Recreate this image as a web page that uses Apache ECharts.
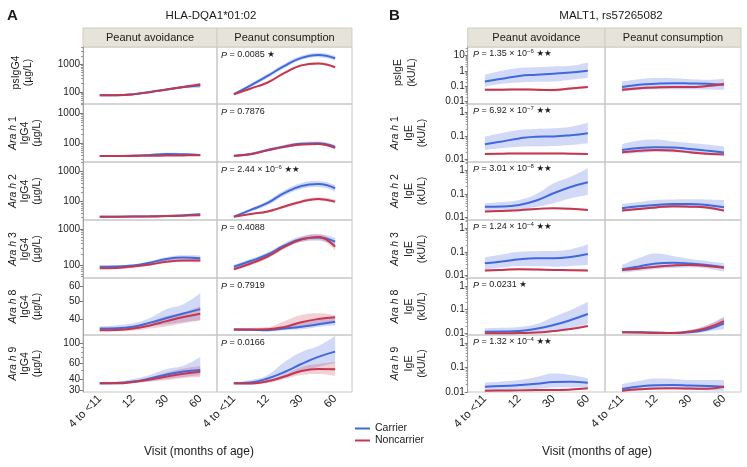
<!DOCTYPE html>
<html><head><meta charset="utf-8">
<script src="https://cdn.jsdelivr.net/npm/echarts@6/dist/echarts.min.js"></script>
<style>html,body{margin:0;padding:0;background:#fff}#c{width:747px;height:467px}</style>
</head><body><div id="c"></div>
<script>
// ---------------- DATA ----------------
const visits = ['4 to <11', '12', '30', '60'];
const xPos = [0, 0.5, 1, 1.5, 2, 2.5, 3];

const A_title = 'HLA-DQA1*01:02';
const B_title = 'MALT1, rs57265082';
const strips = ['Peanut avoidance', 'Peanut consumption'];
const A_rowNames = ['psIgG4', 'Ara h 1', 'Ara h 2', 'Ara h 3', 'Ara h 8', 'Ara h 9'];
const B_rowNames = ['psIgE', 'Ara h 1', 'Ara h 2', 'Ara h 3', 'Ara h 8', 'Ara h 9'];
const A_isotype = 'IgG4', A_unit = '(µg/L)';
const B_isotype = 'IgE', B_unit = '(kU/L)';

// y-axis ranges (data units) and tick labels
const A_yRange = [[36.9, 4170], [23.8, 2040], [24.5, 2090], [46.2, 1760], [32.9, 66.2], [28.5, 123.6]];
const B_yRange = [[0.00708, 37.2], [0.00794, 2.24], [0.00794, 2.16], [0.00794, 2.24], [0.00851, 2.19], [0.00977, 2.19]];
const A_ticks = [[100, 1000], [100, 1000], [100, 1000], [100, 1000], [40, 50, 60], [30, 40, 60, 100]];
const B_ticks = [[0.01, 0.1, 1, 10], [0.01, 0.1, 1], [0.01, 0.1, 1], [0.01, 0.1, 1], [0.01, 0.1, 1], [0.01, 0.1, 1]];

// P values: mantissa, exponent, stars
const A_pVal = ['0.0085', '0.7876', '2.44 × 10', '0.4088', '0.7919', '0.0166'];
const A_pExp = ['', '', '−6', '', '', ''];
const A_pStar = ['★', '', '★★', '', '', ''];
const B_pVal = ['1.35 × 10', '6.92 × 10', '3.01 × 10', '1.24 × 10', '0.0231', '1.32 × 10'];
const B_pExp = ['−6', '−7', '−8', '−4', '', '−4'];
const B_pStar = ['★★', '★★', '★★', '★★', '★', '★★'];

// Panel A, row 1 psIgG4
const A1_av_car = [76, 76, 83, 100, 123, 152, 172];
const A1_av_car_lo = [72, 72, 78, 93, 112, 135, 140];
const A1_av_car_hi = [80, 80, 88, 108, 135, 172, 215];
const A1_av_non = [76, 76, 82, 98, 122, 152, 186];
const A1_av_non_lo = [73, 73, 78, 93, 115, 142, 168];
const A1_av_non_hi = [79, 79, 86, 104, 130, 163, 205];
const A1_co_car = [83, 172, 378, 869, 1687, 2166, 1648];
const A1_co_car_lo = [78, 150, 320, 730, 1420, 1800, 1350];
const A1_co_car_hi = [88, 200, 450, 1050, 2000, 2600, 2000];
const A1_co_non = [83, 134, 220, 485, 906, 1069, 780];
const A1_co_non_lo = [79, 124, 202, 445, 830, 970, 700];
const A1_co_non_hi = [87, 145, 240, 530, 990, 1180, 870];
// row 2 Ara h 1 IgG4
const A2_av_car = [38, 38, 39, 41, 44, 43, 41];
const A2_av_car_lo = [36.5, 36.5, 37, 38.5, 40.5, 39.5, 38];
const A2_av_car_hi = [39.5, 39.5, 41, 44, 48, 47, 44];
const A2_av_non = [37.5, 37.5, 38, 38.5, 39, 39.5, 40];
const A2_av_non_lo = [36.5, 36.5, 37, 37.3, 37.6, 38, 38.2];
const A2_av_non_hi = [38.5, 38.5, 39, 39.8, 40.5, 41, 42];
const A2_co_car = [38.6, 44, 60, 79, 96, 100, 76];
const A2_co_car_lo = [36.8, 40.5, 54, 69, 84, 87, 66];
const A2_co_car_hi = [40.5, 48, 67, 90, 110, 115, 88];
const A2_co_non = [38, 43, 58, 76, 92, 95, 70];
const A2_co_non_lo = [36.5, 40.6, 54, 70, 85, 87, 63];
const A2_co_non_hi = [39.5, 45.5, 62, 82, 100, 104, 78];
// row 3 Ara h 2 IgG4
const A3_av_car = [31.6, 31.6, 32, 32.5, 33.5, 35, 38];
const A3_av_car_lo = [30.7, 30.7, 31, 31.3, 32, 33.2, 35];
const A3_av_car_hi = [32.5, 32.5, 33, 33.8, 35, 37, 41];
const A3_av_non = [31.6, 31.6, 31.8, 32, 33, 34, 35.5];
const A3_av_non_lo = [30.9, 30.9, 31, 31.2, 32, 32.8, 34];
const A3_av_non_hi = [32.3, 32.3, 32.6, 33, 34, 35.3, 37];
const A3_co_car = [31.6, 53, 90.5, 195, 334, 389, 280];
const A3_co_car_lo = [30.3, 47, 76, 158, 266, 310, 218];
const A3_co_car_hi = [33, 60, 108, 240, 420, 490, 360];
const A3_co_non = [31.6, 38.9, 47, 69, 100, 123, 100];
const A3_co_non_lo = [30.4, 36.8, 43, 62, 89, 109, 87];
const A3_co_non_hi = [32.8, 41, 51, 76, 112, 139, 115];
// row 4 Ara h 3 IgG4
const A4_av_car = [94, 95, 101, 121, 153, 167, 159];
const A4_av_car_lo = [87, 88, 93, 110, 136, 145, 133];
const A4_av_car_hi = [102, 103, 110, 133, 172, 192, 190];
const A4_av_non = [85, 87, 95, 108, 129, 139, 139];
const A4_av_non_lo = [80, 82, 89, 101, 119, 127, 124];
const A4_av_non_hi = [90, 92, 101, 116, 140, 152, 155];
const A4_co_car = [94, 134, 202, 355, 535, 587, 451];
const A4_co_car_lo = [84, 118, 176, 307, 447, 478, 350];
const A4_co_car_hi = [105, 152, 232, 410, 640, 720, 580];
const A4_co_non = [80, 115, 178, 324, 518, 605, 330];
const A4_co_non_lo = [73, 103, 158, 284, 447, 508, 260];
const A4_co_non_hi = [88, 128, 200, 370, 600, 720, 420];
// row 5 Ara h 8 IgG4
const A5_av_car = [35.6, 35.7, 36.4, 38.3, 40.5, 42.8, 45.2];
const A5_av_car_lo = [34.9, 34.9, 35.3, 36.6, 37.5, 38.5, 39.5];
const A5_av_car_hi = [36.6, 37.1, 38.0, 40.5, 45.2, 48.0, 55.0];
const A5_av_non = [34.9, 35.0, 35.6, 37.0, 39.0, 41.0, 42.7];
const A5_av_non_lo = [34.4, 34.4, 34.7, 35.6, 36.6, 38.0, 39.3];
const A5_av_non_hi = [35.4, 35.6, 36.5, 38.5, 41.5, 43.5, 47];
const A5_co_car = [35.2, 35.1, 34.9, 35.6, 36.4, 37.5, 38.7];
const A5_co_car_lo = [34.7, 34.7, 34.4, 34.9, 35.3, 36.3, 37.1];
const A5_co_car_hi = [35.6, 35.6, 35.6, 36.6, 38.0, 39.5, 41.0];
const A5_co_non = [35.2, 35.2, 35.3, 36.3, 38.5, 40.0, 40.9];
const A5_co_non_lo = [34.7, 34.7, 34.7, 35.3, 36.3, 37.5, 39.2];
const A5_co_non_hi = [35.6, 35.9, 36.3, 39.0, 42.0, 43.0, 42.0];
// row 6 Ara h 9 IgG4
const A6_av_car = [35.7, 35.9, 37.3, 40.4, 44.8, 48.3, 50.2];
const A6_av_car_lo = [34.6, 34.6, 35.9, 37.3, 39.8, 42.0, 44.2];
const A6_av_car_hi = [36.9, 37.3, 39.8, 44.2, 51.5, 56.1, 70];
const A6_av_non = [35.7, 35.7, 36.9, 39.4, 42.5, 45.5, 48.1];
const A6_av_non_lo = [35.0, 35.0, 35.9, 37.3, 38.8, 40.9, 42.0];
const A6_av_non_hi = [36.4, 36.4, 37.8, 41.4, 47.1, 52.2, 55.6];
const A6_co_car = [35.7, 36.4, 40.4, 47.7, 58.6, 70.3, 80.5];
const A6_co_car_lo = [34.6, 34.6, 36.9, 40.9, 47.7, 54.3, 60.2];
const A6_co_car_hi = [36.4, 38.8, 44.2, 61.7, 79.9, 93.3, 120.6];
const A6_co_non = [35.7, 35.5, 37.5, 42.5, 49.0, 51.5, 51.1];
const A6_co_non_lo = [34.6, 34.6, 35.9, 39.8, 44.2, 45.3, 43.1];
const A6_co_non_hi = [36.4, 36.4, 38.8, 44.7, 54.3, 58.6, 61.7];

// Panel B, row 1 psIgE
const B1_av_car = [0.209, 0.314, 0.479, 0.573, 0.667, 0.81, 1.05];
const B1_av_car_lo = [0.098, 0.148, 0.18, 0.2, 0.209, 0.27, 0.365];
const B1_av_car_hi = [0.573, 1.05, 1.57, 1.77, 2.0, 2.22, 3.6];
const B1_av_non = [0.06, 0.06, 0.063, 0.06, 0.057, 0.073, 0.09];
const B1_av_non_lo = [0.05, 0.05, 0.053, 0.05, 0.047, 0.06, 0.075];
const B1_av_non_hi = [0.072, 0.072, 0.075, 0.072, 0.069, 0.087, 0.11];
const B1_co_car = [0.09, 0.127, 0.148, 0.16, 0.155, 0.148, 0.127];
const B1_co_car_lo = [0.046, 0.06, 0.066, 0.065, 0.065, 0.063, 0.06];
const B1_co_car_hi = [0.209, 0.291, 0.348, 0.338, 0.291, 0.27, 0.314];
const B1_co_non = [0.06, 0.075, 0.085, 0.09, 0.09, 0.105, 0.141];
const B1_co_non_lo = [0.05, 0.063, 0.072, 0.076, 0.076, 0.088, 0.115];
const B1_co_non_hi = [0.072, 0.09, 0.1, 0.107, 0.107, 0.125, 0.17];
// row 2 Ara h 1 IgE
const B2_av_car = [0.0447, 0.0586, 0.0785, 0.0934, 0.0953, 0.107, 0.13];
const B2_av_car_lo = [0.0257, 0.0312, 0.0354, 0.0368, 0.0379, 0.0417, 0.0492];
const B2_av_car_hi = [0.0934, 0.134, 0.179, 0.197, 0.211, 0.246, 0.364];
const B2_av_non = [0.0174, 0.0179, 0.0183, 0.0183, 0.0183, 0.0179, 0.0174];
const B2_av_non_lo = [0.0158, 0.0163, 0.0167, 0.0167, 0.0167, 0.0163, 0.0158];
const B2_av_non_hi = [0.0191, 0.0197, 0.0201, 0.0201, 0.0201, 0.0197, 0.0191];
const B2_co_car = [0.0257, 0.0312, 0.0334, 0.0327, 0.0283, 0.024, 0.0201];
const B2_co_car_lo = [0.0174, 0.0191, 0.021, 0.0202, 0.0183, 0.0166, 0.016];
const B2_co_car_hi = [0.0447, 0.0646, 0.0711, 0.0586, 0.0507, 0.0438, 0.036];
const B2_co_non = [0.0205, 0.0237, 0.0257, 0.0245, 0.0205, 0.0179, 0.0166];
const B2_co_non_lo = [0.0187, 0.0216, 0.0234, 0.0223, 0.0187, 0.0163, 0.0151];
const B2_co_non_hi = [0.0225, 0.026, 0.0282, 0.0269, 0.0225, 0.0197, 0.0182];
// row 3 Ara h 2 IgE
const B3_av_car = [0.0289, 0.0295, 0.0341, 0.0526, 0.1054, 0.1936, 0.305];
const B3_av_car_lo = [0.021, 0.0214, 0.0225, 0.0281, 0.0402, 0.065, 0.0895];
const B3_av_car_hi = [0.0402, 0.0455, 0.0552, 0.0986, 0.277, 0.524, 1.18];
const B3_av_non = [0.0179, 0.0191, 0.0206, 0.0232, 0.0248, 0.0236, 0.021];
const B3_av_non_lo = [0.0163, 0.0174, 0.0188, 0.0211, 0.0226, 0.0215, 0.0191];
const B3_av_non_hi = [0.0197, 0.021, 0.0226, 0.0255, 0.0273, 0.026, 0.0231];
const B3_co_car = [0.0248, 0.03, 0.0341, 0.0375, 0.0375, 0.0341, 0.0273];
const B3_co_car_lo = [0.0179, 0.021, 0.0248, 0.0256, 0.0256, 0.0232, 0.0179];
const B3_co_car_hi = [0.0375, 0.0455, 0.0552, 0.058, 0.059, 0.058, 0.0552];
const B3_co_non = [0.0197, 0.0232, 0.0268, 0.03, 0.0289, 0.0268, 0.0197];
const B3_co_non_lo = [0.018, 0.0211, 0.0244, 0.0273, 0.0263, 0.0244, 0.018];
const B3_co_non_hi = [0.0216, 0.0255, 0.0295, 0.033, 0.0318, 0.0295, 0.0216];
// row 4 Ara h 3 IgE
const B4_av_car = [0.0334, 0.0397, 0.0492, 0.0542, 0.0542, 0.0615, 0.0824];
const B4_av_car_lo = [0.0186, 0.0222, 0.0257, 0.0249, 0.024, 0.0257, 0.0283];
const B4_av_car_hi = [0.0598, 0.0785, 0.103, 0.108, 0.11, 0.13, 0.211];
const B4_av_non = [0.0163, 0.0174, 0.0186, 0.0182, 0.0174, 0.0169, 0.0163];
const B4_av_non_lo = [0.0149, 0.0158, 0.0169, 0.0166, 0.0158, 0.0154, 0.0149];
const B4_av_non_hi = [0.0179, 0.0191, 0.0204, 0.02, 0.0191, 0.0186, 0.0179];
const B4_co_car = [0.0186, 0.0245, 0.0327, 0.0354, 0.0327, 0.0283, 0.0226];
const B4_co_car_lo = [0.0134, 0.0158, 0.0192, 0.0211, 0.0222, 0.0201, 0.0148];
const B4_co_car_hi = [0.0283, 0.0558, 0.0865, 0.0678, 0.0507, 0.0417, 0.0334];
const B4_co_non = [0.0174, 0.0201, 0.024, 0.0269, 0.0283, 0.0257, 0.0216];
const B4_co_non_lo = [0.0158, 0.0183, 0.0218, 0.0245, 0.0258, 0.0234, 0.0197];
const B4_co_non_hi = [0.0191, 0.0221, 0.0264, 0.0296, 0.0311, 0.0283, 0.0238];
// row 5 Ara h 8 IgE
const B5_av_car = [0.0117, 0.0119, 0.0125, 0.0155, 0.0224, 0.0365, 0.0655];
const B5_av_car_lo = [0.01, 0.01, 0.0103, 0.0108, 0.0125, 0.0163, 0.0247];
const B5_av_car_hi = [0.0163, 0.0171, 0.0185, 0.0247, 0.0489, 0.0966, 0.217];
const B5_av_non = [0.01, 0.01, 0.0103, 0.0108, 0.0125, 0.0152, 0.0204];
const B5_av_non_lo = [0.0094, 0.0094, 0.0097, 0.0101, 0.0117, 0.0142, 0.019];
const B5_av_non_hi = [0.0107, 0.0107, 0.011, 0.0115, 0.0134, 0.0163, 0.0219];
const B5_co_car = [0.011, 0.011, 0.0108, 0.0103, 0.011, 0.0145, 0.0265];
const B5_co_car_lo = [0.01, 0.01, 0.0098, 0.0095, 0.0098, 0.0119, 0.0148];
const B5_co_car_hi = [0.0119, 0.0119, 0.0114, 0.0116, 0.0138, 0.0224, 0.0503];
const B5_co_non = [0.011, 0.0108, 0.0103, 0.0103, 0.0119, 0.0168, 0.0331];
const B5_co_non_lo = [0.0103, 0.01, 0.0095, 0.0095, 0.0105, 0.0131, 0.0224];
const B5_co_non_hi = [0.0119, 0.0119, 0.0114, 0.0114, 0.0138, 0.0214, 0.0465];
// row 6 Ara h 9 IgE
const B6_av_car = [0.0161, 0.0172, 0.0189, 0.0212, 0.0252, 0.0259, 0.0235];
const B6_av_car_lo = [0.011, 0.0112, 0.0117, 0.0129, 0.0149, 0.0152, 0.0152];
const B6_av_car_hi = [0.0235, 0.0264, 0.0304, 0.0405, 0.0565, 0.049, 0.0358];
const B6_av_non = [0.011, 0.0112, 0.0114, 0.0117, 0.0117, 0.0123, 0.0138];
const B6_av_non_lo = [0.0103, 0.0105, 0.0107, 0.011, 0.011, 0.0115, 0.0129];
const B6_av_non_hi = [0.0117, 0.0119, 0.0121, 0.0124, 0.0124, 0.0131, 0.0147];
const B6_co_car = [0.0129, 0.0164, 0.0186, 0.0189, 0.0179, 0.0172, 0.0161];
const B6_co_car_lo = [0.01, 0.0112, 0.0126, 0.0123, 0.0117, 0.0114, 0.011];
const B6_co_car_hi = [0.0208, 0.0277, 0.0351, 0.0335, 0.0304, 0.0304, 0.0304];
const B6_co_non = [0.011, 0.0126, 0.0136, 0.0138, 0.0136, 0.0133, 0.0161];
const B6_co_non_lo = [0.0103, 0.0118, 0.0127, 0.0129, 0.0127, 0.0124, 0.015];
const B6_co_non_hi = [0.0117, 0.0134, 0.0145, 0.0147, 0.0145, 0.0142, 0.0172];

// [panel, row, col, carrier, carrierLo, carrierHi, noncarrier, noncarrierLo, noncarrierHi]
const cells = [
  [0,0,0, A1_av_car, A1_av_car_lo, A1_av_car_hi, A1_av_non, A1_av_non_lo, A1_av_non_hi],
  [0,0,1, A1_co_car, A1_co_car_lo, A1_co_car_hi, A1_co_non, A1_co_non_lo, A1_co_non_hi],
  [0,1,0, A2_av_car, A2_av_car_lo, A2_av_car_hi, A2_av_non, A2_av_non_lo, A2_av_non_hi],
  [0,1,1, A2_co_car, A2_co_car_lo, A2_co_car_hi, A2_co_non, A2_co_non_lo, A2_co_non_hi],
  [0,2,0, A3_av_car, A3_av_car_lo, A3_av_car_hi, A3_av_non, A3_av_non_lo, A3_av_non_hi],
  [0,2,1, A3_co_car, A3_co_car_lo, A3_co_car_hi, A3_co_non, A3_co_non_lo, A3_co_non_hi],
  [0,3,0, A4_av_car, A4_av_car_lo, A4_av_car_hi, A4_av_non, A4_av_non_lo, A4_av_non_hi],
  [0,3,1, A4_co_car, A4_co_car_lo, A4_co_car_hi, A4_co_non, A4_co_non_lo, A4_co_non_hi],
  [0,4,0, A5_av_car, A5_av_car_lo, A5_av_car_hi, A5_av_non, A5_av_non_lo, A5_av_non_hi],
  [0,4,1, A5_co_car, A5_co_car_lo, A5_co_car_hi, A5_co_non, A5_co_non_lo, A5_co_non_hi],
  [0,5,0, A6_av_car, A6_av_car_lo, A6_av_car_hi, A6_av_non, A6_av_non_lo, A6_av_non_hi],
  [0,5,1, A6_co_car, A6_co_car_lo, A6_co_car_hi, A6_co_non, A6_co_non_lo, A6_co_non_hi],
  [1,0,0, B1_av_car, B1_av_car_lo, B1_av_car_hi, B1_av_non, B1_av_non_lo, B1_av_non_hi],
  [1,0,1, B1_co_car, B1_co_car_lo, B1_co_car_hi, B1_co_non, B1_co_non_lo, B1_co_non_hi],
  [1,1,0, B2_av_car, B2_av_car_lo, B2_av_car_hi, B2_av_non, B2_av_non_lo, B2_av_non_hi],
  [1,1,1, B2_co_car, B2_co_car_lo, B2_co_car_hi, B2_co_non, B2_co_non_lo, B2_co_non_hi],
  [1,2,0, B3_av_car, B3_av_car_lo, B3_av_car_hi, B3_av_non, B3_av_non_lo, B3_av_non_hi],
  [1,2,1, B3_co_car, B3_co_car_lo, B3_co_car_hi, B3_co_non, B3_co_non_lo, B3_co_non_hi],
  [1,3,0, B4_av_car, B4_av_car_lo, B4_av_car_hi, B4_av_non, B4_av_non_lo, B4_av_non_hi],
  [1,3,1, B4_co_car, B4_co_car_lo, B4_co_car_hi, B4_co_non, B4_co_non_lo, B4_co_non_hi],
  [1,4,0, B5_av_car, B5_av_car_lo, B5_av_car_hi, B5_av_non, B5_av_non_lo, B5_av_non_hi],
  [1,4,1, B5_co_car, B5_co_car_lo, B5_co_car_hi, B5_co_non, B5_co_non_lo, B5_co_non_hi],
  [1,5,0, B6_av_car, B6_av_car_lo, B6_av_car_hi, B6_av_non, B6_av_non_lo, B6_av_non_hi],
  [1,5,1, B6_co_car, B6_co_car_lo, B6_co_car_hi, B6_co_non, B6_co_non_lo, B6_co_non_hi]
];

// ---------------- LAYOUT / STYLE ----------------
const FONT = '"Liberation Sans", Arial, "DejaVu Sans", sans-serif';
const BLUE = '#4169de', RED = '#c4374f';
const BLUE_BAND = 'rgba(70,105,225,0.25)', RED_BAND = 'rgba(200,60,85,0.24)';
const panelCols = [[[83, 217], [217, 352]], [[467.7, 605], [605, 741]]];
const rowEdges = [47, 104, 162, 220, 278, 335, 392];
const OFF = 3; // shift so log values stay positive for stacking
const T = v => Math.log10(v) + OFF;
const fmt = v => String(parseFloat(Math.pow(10, v - OFF).toPrecision(3)));

// category slots: half a visit step of padding on each side, then the read positions
const xCats = [String(xPos[0] - 0.5)].concat(xPos.map(String), [String(xPos[xPos.length - 1] + 0.5)]);
const pad = arr => [null].concat(arr, [null]);
const xLabel = v => { const n = parseFloat(v); return Number.isInteger(n) && n >= 0 && n < visits.length ? visits[n] : ''; };

function minorTicks(range, majors) {
  const out = [];
  const k0 = Math.floor(Math.log10(range[0])), k1 = Math.ceil(Math.log10(range[1]));
  for (let k = k0; k <= k1; k++) {
    for (let d = 1; d <= 9; d++) {
      const v = d * Math.pow(10, k);
      if (v < range[0] || v > range[1]) continue;
      if (majors.some(m => Math.abs(m - v) / m < 1e-6)) continue;
      out.push(T(v));
    }
  }
  return out;
}

const grids = [], xAxes = [], yAxes = [], series = [], minorAxes = [];
const smooth = 0.45;
cells.forEach((c, k) => {
  const [p, r, col, car, carLo, carHi, non, nonLo, nonHi] = c;
  const [x0, x1] = panelCols[p][col];
  grids.push({
    left: x0, top: rowEdges[r], width: x1 - x0, height: rowEdges[r + 1] - rowEdges[r],
    show: true, borderColor: '#c6c6c6', borderWidth: 1, backgroundColor: 'transparent',
    outerBoundsMode: 'none', containLabel: false
  });
  const range = (p === 0 ? A_yRange : B_yRange)[r];
  const majorsV = (p === 0 ? A_ticks : B_ticks)[r];
  const majors = majorsV.map(T);
  xAxes.push({
    type: 'category', gridIndex: k, data: xCats, boundaryGap: false,
    axisLine: { show: false, onZero: false }, axisTick: { show: false }, splitLine: { show: false },
    axisLabel: r === 5 ? {
      interval: 0, formatter: xLabel,
      rotate: 45, fontSize: 11.5, color: '#222', margin: 5, fontFamily: FONT
    } : { show: false }
  });
  yAxes.push({
    type: 'value', gridIndex: k, min: T(range[0]), max: T(range[1]), position: 'left',
    axisLine: { show: col === 0, onZero: false, lineStyle: { color: '#a0a0a0', width: 1 } },
    axisTick: { show: col === 0, customValues: majors, length: 3, lineStyle: { color: '#777' } },
    axisLabel: col === 0 ? { customValues: majors, formatter: fmt, fontSize: 10, color: '#222', margin: 3, fontFamily: FONT } : { show: false },
    splitLine: { show: false }
  });
  if (col === 0) {
    minorAxes.push({
      type: 'value', gridIndex: k, min: T(range[0]), max: T(range[1]), position: 'left',
      axisLine: { show: false, onZero: false },
      axisTick: { show: true, customValues: minorTicks(range, majorsV), length: 2, lineStyle: { color: '#999' } },
      axisLabel: { show: false }, splitLine: { show: false }
    });
  }
  const band = (lo, hi, color, id) => {
    series.push({
      type: 'line', name: 'band', xAxisIndex: k, yAxisIndex: k, stack: id, stackStrategy: 'all',
      data: pad(lo.map(v => T(v))), symbol: 'none', smooth,
      lineStyle: { opacity: 0, width: 0 }, silent: true, z: 1
    });
    series.push({
      type: 'line', name: 'band', xAxisIndex: k, yAxisIndex: k, stack: id, stackStrategy: 'all',
      data: pad(hi.map((v, i) => T(v) - T(lo[i]))), symbol: 'none', smooth,
      lineStyle: { opacity: 0, width: 0 }, areaStyle: { color, opacity: 1 }, silent: true, z: 1
    });
  };
  band(carLo, carHi, BLUE_BAND, 'bc' + k);
  band(nonLo, nonHi, RED_BAND, 'bn' + k);
  series.push({
    type: 'line', name: 'Carrier', xAxisIndex: k, yAxisIndex: k,
    data: pad(car.map(v => T(v))), symbol: 'none', smooth,
    lineStyle: { color: BLUE, width: 2 }, itemStyle: { color: BLUE }, z: 3
  });
  series.push({
    type: 'line', name: 'Noncarrier', xAxisIndex: k, yAxisIndex: k,
    data: pad(non.map(v => T(v))), symbol: 'none', smooth,
    lineStyle: { color: RED, width: 2 }, itemStyle: { color: RED }, z: 4
  });
});

// ---------------- GRAPHIC TEXT ----------------
const graphic = [];
const txt = (x, y, text, style, extra) => graphic.push(Object.assign({
  type: 'text', x, y, silent: true,
  style: Object.assign({ text, fill: '#1a1a1a', fontFamily: FONT }, style)
}, extra || {}));

txt(7, 16, 'A', { fontSize: 15, fontWeight: 'bold', verticalAlign: 'middle' });
txt(389, 16, 'B', { fontSize: 15, fontWeight: 'bold', verticalAlign: 'middle' });
txt(211, 15.5, A_title, { fontSize: 11.5, align: 'center', verticalAlign: 'middle' });
txt(611, 15.5, B_title, { fontSize: 11.5, align: 'center', verticalAlign: 'middle' });

panelCols.forEach(cols => cols.forEach(([x0, x1], ci) => {
  graphic.push({ type: 'rect', silent: true, shape: { x: x0, y: 28, width: x1 - x0, height: 19 },
    style: { fill: '#e6e4d8', stroke: '#cdcdc6', lineWidth: 1 } });
  txt((x0 + x1) / 2, 37.5, strips[ci], { fontSize: 11, align: 'center', verticalAlign: 'middle' });
}));

const richRow = (lh) => ({ i: { fontStyle: 'italic', fontSize: 10.5, lineHeight: lh, fontFamily: FONT, fill: '#1a1a1a' },
                            n: { fontSize: 10.5, lineHeight: lh, fontFamily: FONT, fill: '#1a1a1a' } });
function rowLabel(name, iso, unit, cx, cy, lh) {
  let s;
  if (name.startsWith('Ara h')) s = '{i|Ara h}{n|' + name.slice(5) + '}\n{n|' + iso + '}\n{n|' + unit + '}';
  else s = '{n|' + name + '}\n{n|' + unit + '}';
  txt(0, 0, s, { fontSize: 10.5, lineHeight: lh, align: 'center', verticalAlign: 'middle', rich: richRow(lh) },
      { x: cx, y: cy, rotation: Math.PI / 2 });
}
for (let r = 0; r < 6; r++) {
  const cy = (rowEdges[r] + rowEdges[r + 1]) / 2 - (r === 0 ? 3 : 0);
  rowLabel(A_rowNames[r], A_isotype, A_unit, r === 0 ? 22 : 25, cy, 12.3);
  rowLabel(B_rowNames[r], B_isotype, B_unit, r === 0 ? 405 : 409, cy, 13.5);
}

const richP = {
  i: { fontStyle: 'italic', fontSize: 9, lineHeight: 11, fontFamily: FONT, fill: '#1a1a1a' },
  n: { fontSize: 9, lineHeight: 11, fontFamily: FONT, fill: '#1a1a1a' },
  s: { fontSize: 6, lineHeight: 7, verticalAlign: 'top', fontFamily: FONT, fill: '#1a1a1a' },
  b: { fontSize: 8.5, lineHeight: 11, fontFamily: '"DejaVu Sans", sans-serif', fill: '#1a1a1a' }
};
function pLabel(val, exp, star, x, y) {
  let s = '{i|P}{n| = ' + val + '}';
  if (exp) s += '{s|' + exp + '}';
  if (star) s += '{n| }{b|' + star + '}';
  txt(x, y, s, { fontSize: 9, verticalAlign: 'middle', rich: richP });
}
for (let r = 0; r < 6; r++) {
  pLabel(A_pVal[r], A_pExp[r], A_pStar[r], 221, rowEdges[r] + 8);
  pLabel(B_pVal[r], B_pExp[r], B_pStar[r], 473, rowEdges[r] + 7);
}

txt(199, 452, 'Visit (months of age)', { fontSize: 12, align: 'center', verticalAlign: 'middle' });
txt(597, 452, 'Visit (months of age)', { fontSize: 12, align: 'center', verticalAlign: 'middle' });

// ---------------- CHART ----------------
const chart = echarts.init(document.getElementById('c'), null, { renderer: 'canvas' });
chart.setOption({
  animation: false,
  backgroundColor: '#fff',
  textStyle: { fontFamily: FONT },
  grid: grids,
  xAxis: xAxes,
  yAxis: yAxes.concat(minorAxes),
  legend: {
    left: 355, top: 423, orient: 'vertical', padding: 0, itemGap: 1,
    itemWidth: 15, itemHeight: 2, icon: 'rect', selectedMode: false,
    data: ['Carrier', 'Noncarrier'],
    textStyle: { fontSize: 10.5, color: '#1a1a1a', fontFamily: FONT }
  },
  series,
  graphic
});
</script></body></html>
